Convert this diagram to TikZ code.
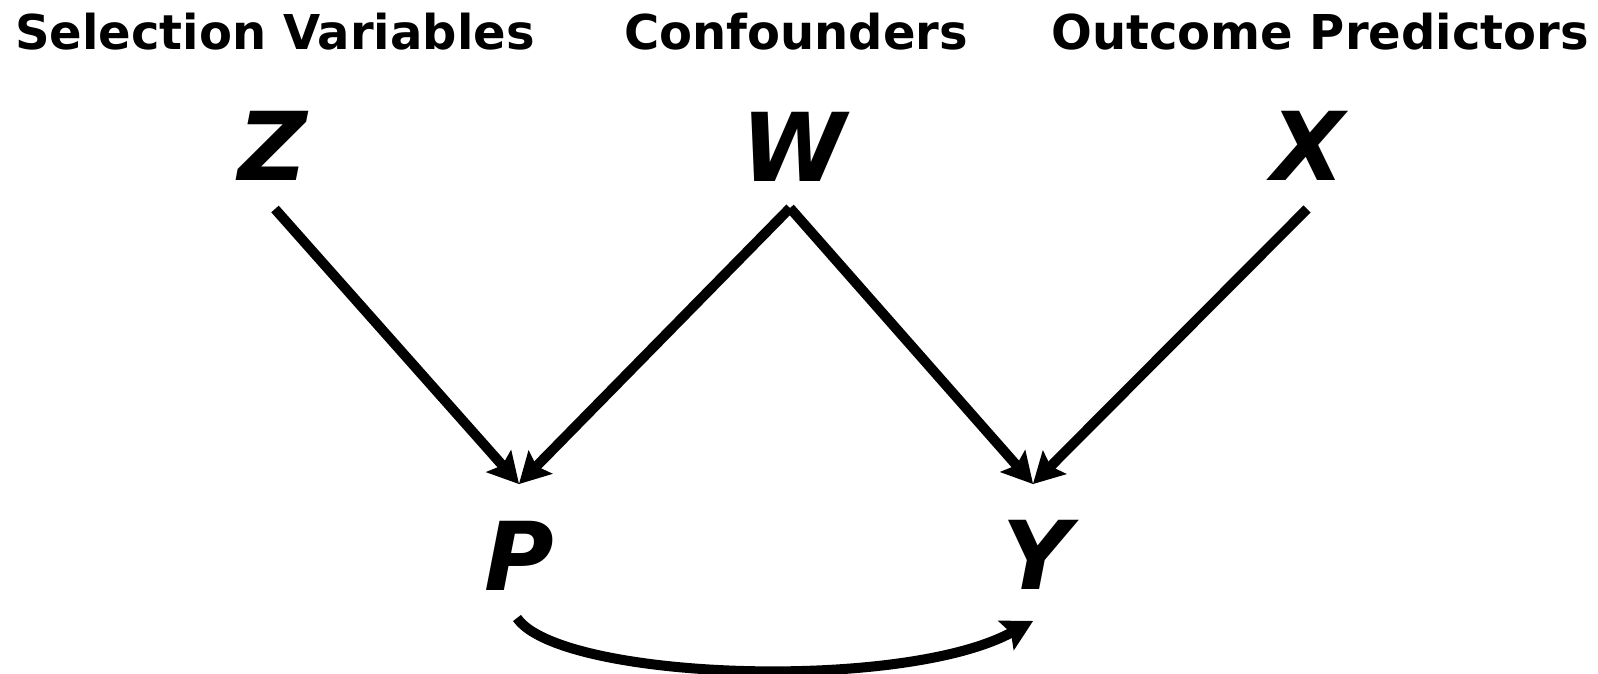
\documentclass[tikz,border=0pt]{standalone}
\usepackage{fontspec}
\setmainfont{DejaVu Sans}
\usetikzlibrary{arrows.meta}
\begin{document}
\begin{tikzpicture}[x=1pt,y=-1pt,
  heading/.style={anchor=base,inner sep=0pt,font=\fontsize{48}{48}\selectfont\bfseries},
  var/.style={anchor=base,inner sep=0pt,font=\fontsize{95}{95}\selectfont\bfseries\itshape},
  edge/.style={line width=10pt,-{Stealth[length=31pt,width=34pt,inset=6pt,line width=0pt]}}]
\useasboundingbox (0,0) rectangle (1598,674);
\node[heading] (h1) at (275,50) {Selection Variables};
\node[heading] (h2) at (796,50) {Confounders};
\node[heading] (h3) at (1320,50) {Outcome Predictors};
\node[var] (Z) at (273,180) {Z};
\node[var] (W) at (794,181) {W};
\node[var] (X) at (1308,180) {X};
\node[var] (P) at (519,590) {P};
\node[var] (Y) at (1037,589) {Y};
\coordinate (Zs) at (275,209);
\coordinate (Ws) at (790,208);
\coordinate (Xs) at (1307,209);
\coordinate (Pt) at (519,484);
\coordinate (Yt) at (1033,484);
\coordinate (Pb) at (517,618);
\coordinate (Yb) at (1033,621);
\draw[edge] (Zs) -- (Pt);
\draw[edge] (Ws) -- (Pt);
\draw[edge] (Ws) -- (Yt);
\draw[edge] (Xs) -- (Yt);
\draw[edge] (Pb) .. controls (560,680) and (900,692) .. (Yb);
\end{tikzpicture}
\end{document}
